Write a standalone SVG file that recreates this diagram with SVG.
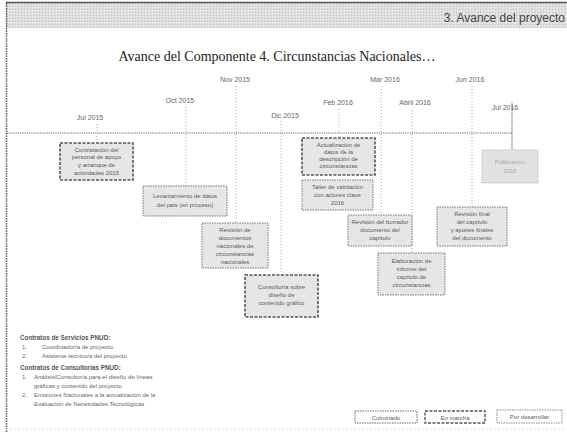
<svg xmlns="http://www.w3.org/2000/svg" width="567" height="432" viewBox="0 0 567 432">
<style>
.frame{fill:none;stroke:#555;stroke-width:1.5;stroke-dasharray:1.5 1}
.date{font-family:"Liberation Sans",Arial,sans-serif;font-size:7px;fill:#666;text-anchor:middle}
.box{fill:#e6e6e6;stroke:#777;stroke-width:1;stroke-dasharray:1.5 1}
.boxb{fill:#e6e6e6;stroke:#555;stroke-width:1.6;stroke-dasharray:3 1.5}
.boxg{fill:#e2e2e2;stroke:#bbb;stroke-width:1;stroke-dasharray:1.5 1}
.bt{font-family:"Liberation Sans",Arial,sans-serif;font-size:6px;fill:#5a5a5a;text-anchor:middle}
.btg{font-family:"Liberation Sans",Arial,sans-serif;font-size:6px;fill:#aaa;text-anchor:middle}
.conn{stroke:#aaa;stroke-width:1;stroke-dasharray:1 2;fill:none}
.ft{font-family:"Liberation Sans",Arial,sans-serif;font-size:6px;fill:#666}
.fh{font-family:"Liberation Sans",Arial,sans-serif;font-size:6.3px;fill:#555;font-weight:bold}
</style>
<defs>
<pattern id="stip" width="3" height="3" patternUnits="userSpaceOnUse">
<rect width="3" height="3" fill="#dedede"/>
<rect x="0" y="0" width="1" height="1" fill="#c4c4c4"/>
<rect x="2" y="1" width="1" height="1" fill="#f0f0f0"/>
</pattern>
</defs>
<rect width="567" height="432" fill="#ffffff"/>
<g id="header">
<rect x="6" y="3" width="561" height="25" fill="url(#stip)"/>
<line x1="6" y1="2.5" x2="567" y2="2.5" stroke="#555" stroke-width="1.5"/>
<line x1="6.5" y1="3" x2="6.5" y2="432" class="frame"/>
<text x="565" y="22" font-family="Liberation Sans,Arial,sans-serif" font-size="12" fill="#444" text-anchor="end">3. Avance del proyecto</text>
</g>
<text id="title" x="277" y="61" font-family="Liberation Serif,Times New Roman,serif" font-size="14" fill="#222" text-anchor="middle">Avance del Componente 4. Circunstancias Nacionales…</text>
<g id="connectors">
<line x1="7" y1="133" x2="512" y2="133" stroke="#666" stroke-width="1" stroke-dasharray="1.2 1"/>
<line class="conn" x1="97" y1="124" x2="97" y2="143"/>
<line class="conn" x1="186" y1="107" x2="186" y2="186"/>
<line class="conn" x1="236" y1="86" x2="236" y2="223"/>
<line class="conn" x1="281" y1="121" x2="281" y2="275"/>
<line class="conn" x1="339" y1="109" x2="339" y2="138"/>
<line class="conn" x1="381" y1="86" x2="381" y2="215"/>
<line class="conn" x1="412" y1="110" x2="412" y2="253"/>
<line class="conn" x1="472" y1="86" x2="472" y2="207"/>
<line x1="512" y1="102" x2="512" y2="150" stroke="#555" stroke-width="1" stroke-dasharray="1.2 0.8"/>
</g>
<g id="dates">
<text class="date" x="90" y="120">Jul 2015</text>
<text class="date" x="180" y="103">Oct 2015</text>
<text class="date" x="235" y="82">Nov 2015</text>
<text class="date" x="285" y="118">Dic 2015</text>
<text class="date" x="338" y="105">Feb 2016</text>
<text class="date" x="385" y="82">Mar 2016</text>
<text class="date" x="415" y="105">Abril 2016</text>
<text class="date" x="470" y="82">Jun 2016</text>
<text class="date" x="505" y="110">Jul 2016</text>
</g>
<g id="node-jul2015">
<rect class="boxb" x="60" y="143" width="73" height="37"/>
<text class="bt" x="96.5" y="152">Contratación del</text>
<text class="bt" x="96.5" y="159">personal de apoyo</text>
<text class="bt" x="96.5" y="167">y arranque de</text>
<text class="bt" x="96.5" y="175">actividades 2015</text>
</g>
<g id="node-oct2015">
<rect class="box" x="143" y="186" width="84" height="30"/>
<text class="bt" x="185" y="198">Levantamiento de datos</text>
<text class="bt" x="185" y="207">del país (en proceso)</text>
</g>
<g id="node-nov2015">
<rect class="box" x="202" y="223" width="66" height="45"/>
<text class="bt" x="235" y="232">Revisión de</text>
<text class="bt" x="235" y="240">documentos</text>
<text class="bt" x="235" y="248">nacionales de</text>
<text class="bt" x="235" y="256">circunstancias</text>
<text class="bt" x="235" y="264">nacionales</text>
</g>
<g id="node-dic2015">
<rect class="boxb" x="245" y="275" width="73" height="42"/>
<text class="bt" x="281.5" y="289">Consultoría sobre</text>
<text class="bt" x="281.5" y="297">diseño de</text>
<text class="bt" x="281.5" y="305">contenido gráfico</text>
</g>
<g id="node-feb2016a">
<rect class="boxb" x="302" y="138" width="73" height="37"/>
<text class="bt" x="338.5" y="147">Actualización de</text>
<text class="bt" x="338.5" y="154">datos de la</text>
<text class="bt" x="338.5" y="161">descripción de</text>
<text class="bt" x="338.5" y="168">circunstancias</text>
</g>
<g id="node-feb2016b">
<rect class="box" x="302" y="180" width="71" height="30"/>
<text class="bt" x="337.5" y="189">Taller de validación</text>
<text class="bt" x="337.5" y="197">con actores clave</text>
<text class="bt" x="337.5" y="205">2016</text>
</g>
<g id="node-mar2016">
<rect class="box" x="348" y="215" width="64" height="31"/>
<text class="bt" x="380" y="224">Revisión del borrador</text>
<text class="bt" x="380" y="232">documento del</text>
<text class="bt" x="380" y="240">capítulo</text>
</g>
<g id="node-abr2016">
<rect class="box" x="378" y="253" width="67" height="42"/>
<text class="bt" x="411.5" y="263">Elaboración de</text>
<text class="bt" x="411.5" y="271">informe del</text>
<text class="bt" x="411.5" y="279">capítulo de</text>
<text class="bt" x="411.5" y="287">circunstancias</text>
</g>
<g id="node-jun2016">
<rect class="box" x="437" y="207" width="70" height="39"/>
<text class="bt" x="472" y="216">Revisión final</text>
<text class="bt" x="472" y="224">del capítulo</text>
<text class="bt" x="472" y="232">y ajustes finales</text>
<text class="bt" x="472" y="240">del documento</text>
</g>
<g id="node-jul2016">
<rect class="boxg" x="482" y="150" width="56" height="33"/>
<text class="btg" x="510" y="164">Publicación</text>
<text class="btg" x="510" y="173">2016</text>
</g>
<g id="footer-text">
<text class="fh" x="20" y="340">Contratos de Servicios PNUD:</text>
<text class="ft" x="22" y="349">1.</text>
<text class="ft" x="42" y="349">Coordinador/a de proyecto</text>
<text class="ft" x="22" y="358">2.</text>
<text class="ft" x="42" y="358">Asistente técnico/a del proyecto</text>
<text class="fh" x="20" y="370">Contratos de Consultorías PNUD:</text>
<text class="ft" x="22" y="379">1.</text>
<text class="ft" x="34" y="379">Análisis/Consultoría para el diseño de líneas</text>
<text class="ft" x="34" y="388">gráficas y contenido del proyecto</text>
<text class="ft" x="22" y="397">2.</text>
<text class="ft" x="34" y="397">Emisiones Nacionales a la actualización de la</text>
<text class="ft" x="34" y="406">Evaluación de Necesidades Tecnológicas</text>
</g>
<g id="legend-culminado">
<rect x="355" y="411" width="62" height="12" fill="#fff" stroke="#666" stroke-width="1" stroke-dasharray="1.5 1"/>
<text class="bt" x="386" y="419.5">Culminado</text>
</g>
<g id="legend-enmarcha">
<rect x="425" y="411" width="60" height="12" fill="#fff" stroke="#555" stroke-width="1.4" stroke-dasharray="3 1.5"/>
<text class="bt" x="455" y="419.5">En marcha</text>
</g>
<g id="legend-pordesarrollar">
<rect x="497" y="410" width="65" height="13" fill="#fff" stroke="#888" stroke-width="1" stroke-dasharray="1.5 1"/>
<text class="bt" x="529.5" y="419">Por desarrollar</text>
</g>
<line x1="6" y1="429" x2="567" y2="429" stroke="#ddd" stroke-width="1" stroke-dasharray="2 2"/>
</svg>
